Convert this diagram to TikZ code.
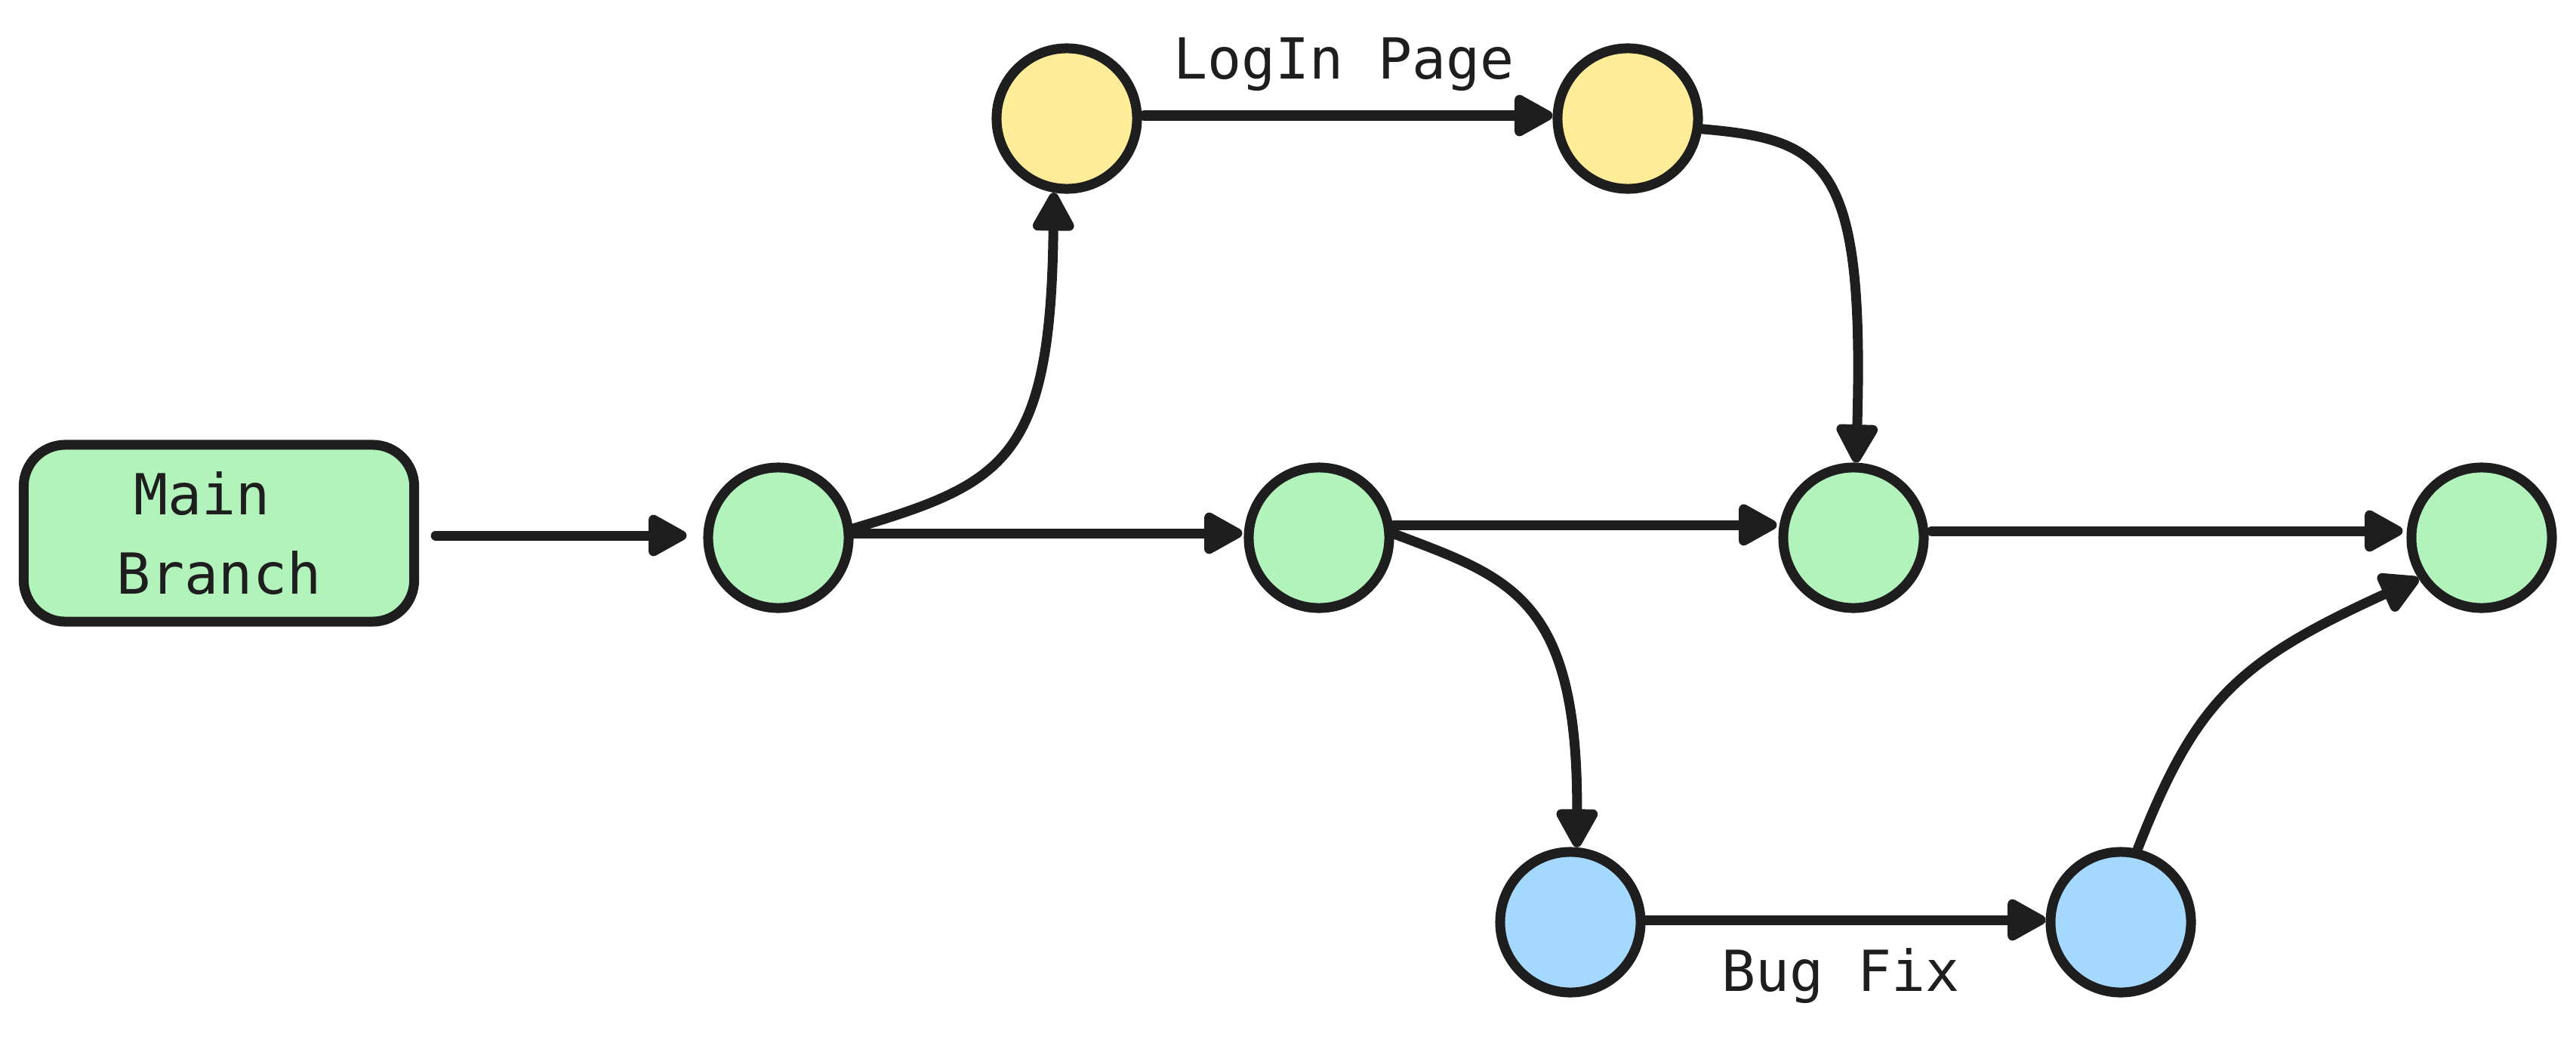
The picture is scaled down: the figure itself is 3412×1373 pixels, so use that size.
\documentclass[tikz,border=0pt]{standalone}
\usepackage{fontspec}
\setmonofont{DejaVu Sans Mono}
\usetikzlibrary{arrows.meta,calc}
\definecolor{ink}{HTML}{1E1E1E}
\definecolor{gfill}{HTML}{B2F2BB}
\definecolor{yfill}{HTML}{FFEC99}
\definecolor{bfill}{HTML}{A5D8FF}
\begin{document}
\begin{tikzpicture}[x=0.01cm,y=-0.01cm,
  commit/.style={circle,draw=ink,line width=0.13cm,minimum size=1.86cm,inner sep=0pt},
  branchbox/.style={draw=ink,fill=gfill,line width=0.13cm,rounded corners=0.55cm,minimum width=5.17cm,minimum height=2.34cm,inner sep=0pt,align=center,text=ink,font=\ttfamily\fontsize{21.3}{30}\selectfont},
  conn/.style={draw=ink,line width=0.13cm,line cap=round,-{Triangle[length=0.58cm,width=0.6cm,round]}},
  lbl/.style={font=\ttfamily\fontsize{21.3}{30}\selectfont,text=ink,inner sep=0pt}]
\useasboundingbox (0,0) rectangle (3412,1373);
\node[branchbox] (main) at (290,706) {Main\hphantom{x}\\Branch};
\node[commit,fill=gfill] (A) at (1031,712) {};
\node[commit,fill=gfill] (B) at (1747,712) {};
\node[commit,fill=gfill] (C) at (2455,712) {};
\node[commit,fill=gfill] (D) at (3287,712) {};
\node[commit,fill=yfill] (Y1) at (1413,157) {};
\node[commit,fill=yfill] (Y2) at (2156,157) {};
\node[commit,fill=bfill] (B1) at (2080,1221) {};
\node[commit,fill=bfill] (B2) at (2809,1221) {};
\node[lbl,anchor=base] (login) at (1780,105) {LogIn Page};
\node[lbl,anchor=base] (bugfix) at (2438,1312) {Bug Fix};
\draw[conn] ($(main.east)+(22,3)$) -- ($(A.west)+(-22,-3)$);
\draw[conn] ($(A.east)+(0,-6)$) -- ($(B.west)+(-2,-6)$);
\draw[conn] (A.7) .. controls (1330,640) and (1392,610) .. (Y1.260);
\draw[conn] ($(Y1.east)+(3,-4)$) -- ($(Y2.west)+(0,-4)$);
\draw[conn] (Y2.-8) .. controls (2420,185) and (2470,215) .. (C.88);
\draw[conn] ($(B.east)+(0,-17)$) -- ($(C.west)+(-2,-17)$);
\draw[conn] (B.3) .. controls (2000,765) and (2090,790) .. (B1.85);
\draw[conn] ($(C.east)+(4,-9)$) -- ($(D.west)+(-5,-9)$);
\draw[conn] ($(B1.east)+(0,-3)$) -- ($(B2.west)+(0,-3)$);
\draw[conn] (B2.77) .. controls (2908,929) and (2962,876) .. (D.213);
\end{tikzpicture}
\end{document}
